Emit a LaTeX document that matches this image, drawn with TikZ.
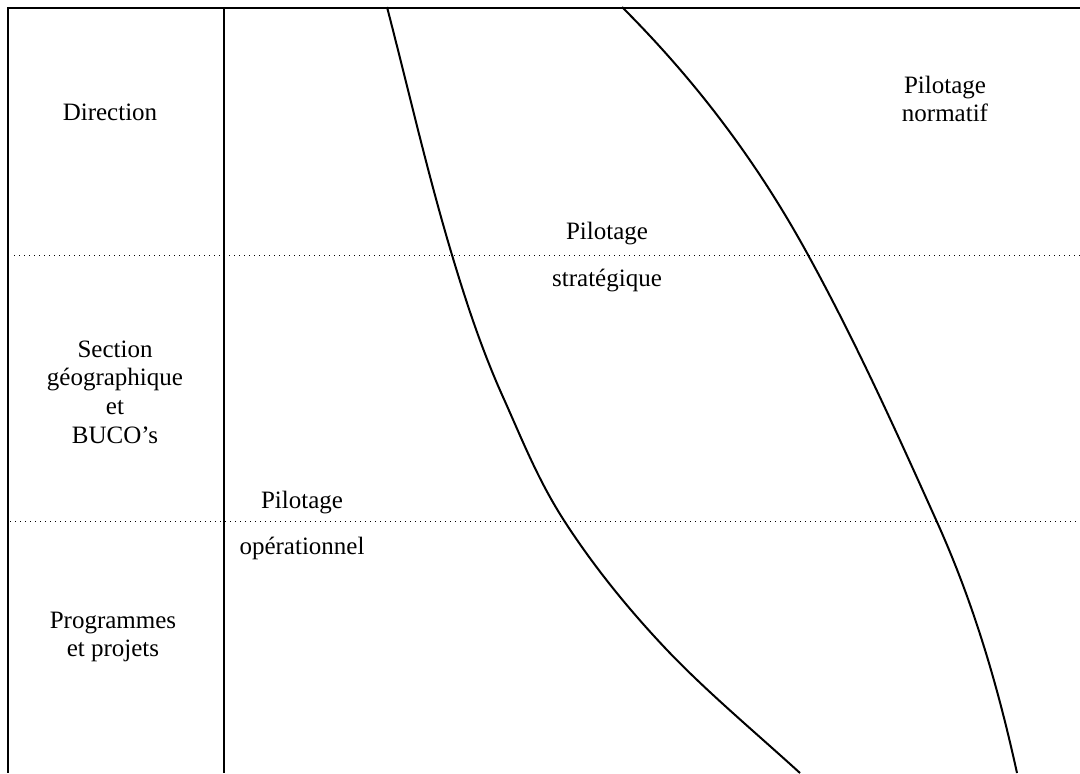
\documentclass[tikz,border=0pt]{standalone}
\usepackage{fontspec}
\setmainfont{Liberation Serif}
\usetikzlibrary{positioning}

\begin{document}
\begin{tikzpicture}[x=0.5pt, y=-0.5pt,
  frame/.style={line width=1pt},
  level/.style={line width=0.5pt, dotted},
  zone/.style={line width=1pt},
  lbl/.style={align=center, inner sep=0pt, font=\fontsize{12.5}{14.3}\selectfont}]
\useasboundingbox (0,0) rectangle (1080,773);

% frame and columns
\draw[frame] (7,8) -- (1080,8);
\draw[frame] (8,8) -- (8,773);
\draw[frame] (224,7) -- (224,773);
\draw[level] (14,255) -- (1080,255);
\draw[level] (10,521) -- (1080,521);

% levels
\node[lbl] (direction) at (110,112) {Direction};
\node[lbl] (section) at (115,392) {Section\\g\'eographique\\et\\BUCO's};
\node[lbl] (programmes) at (113,637) {Programmes\\et projets};

% zones of pilotage
\node[lbl] (normatif) at (945,99) {Pilotage\\normatif};
\node[lbl] (pilstrat) at (607,234) {Pilotage};
\node[lbl, below=11.5pt of pilstrat] (strategique) {strat\'egique};
\node[lbl] (pilop) at (302,503) {Pilotage};
\node[lbl, below=11pt of pilop] (operationnel) {op\'erationnel};

\draw[zone] (387,7) .. controls (408.5,89.7) and (427.2,172.3) .. (452,255)
  .. controls (466.2,302.3) and (481.7,349.7) .. (503,397)
  .. controls (521.8,438.7) and (537.9,480.3) .. (565,522)
  .. controls (592.7,564.7) and (626.5,607.3) .. (667,650)
  .. controls (706,691) and (754.9,732) .. (800,773);
\draw[zone] (622,7) .. controls (704,89) and (761.9,171) .. (807,253)
  .. controls (856.3,342.7) and (896.6,432.3) .. (937,522)
  .. controls (974.7,605.7) and (998.6,689.3) .. (1017,773);
\end{tikzpicture}
\end{document}
